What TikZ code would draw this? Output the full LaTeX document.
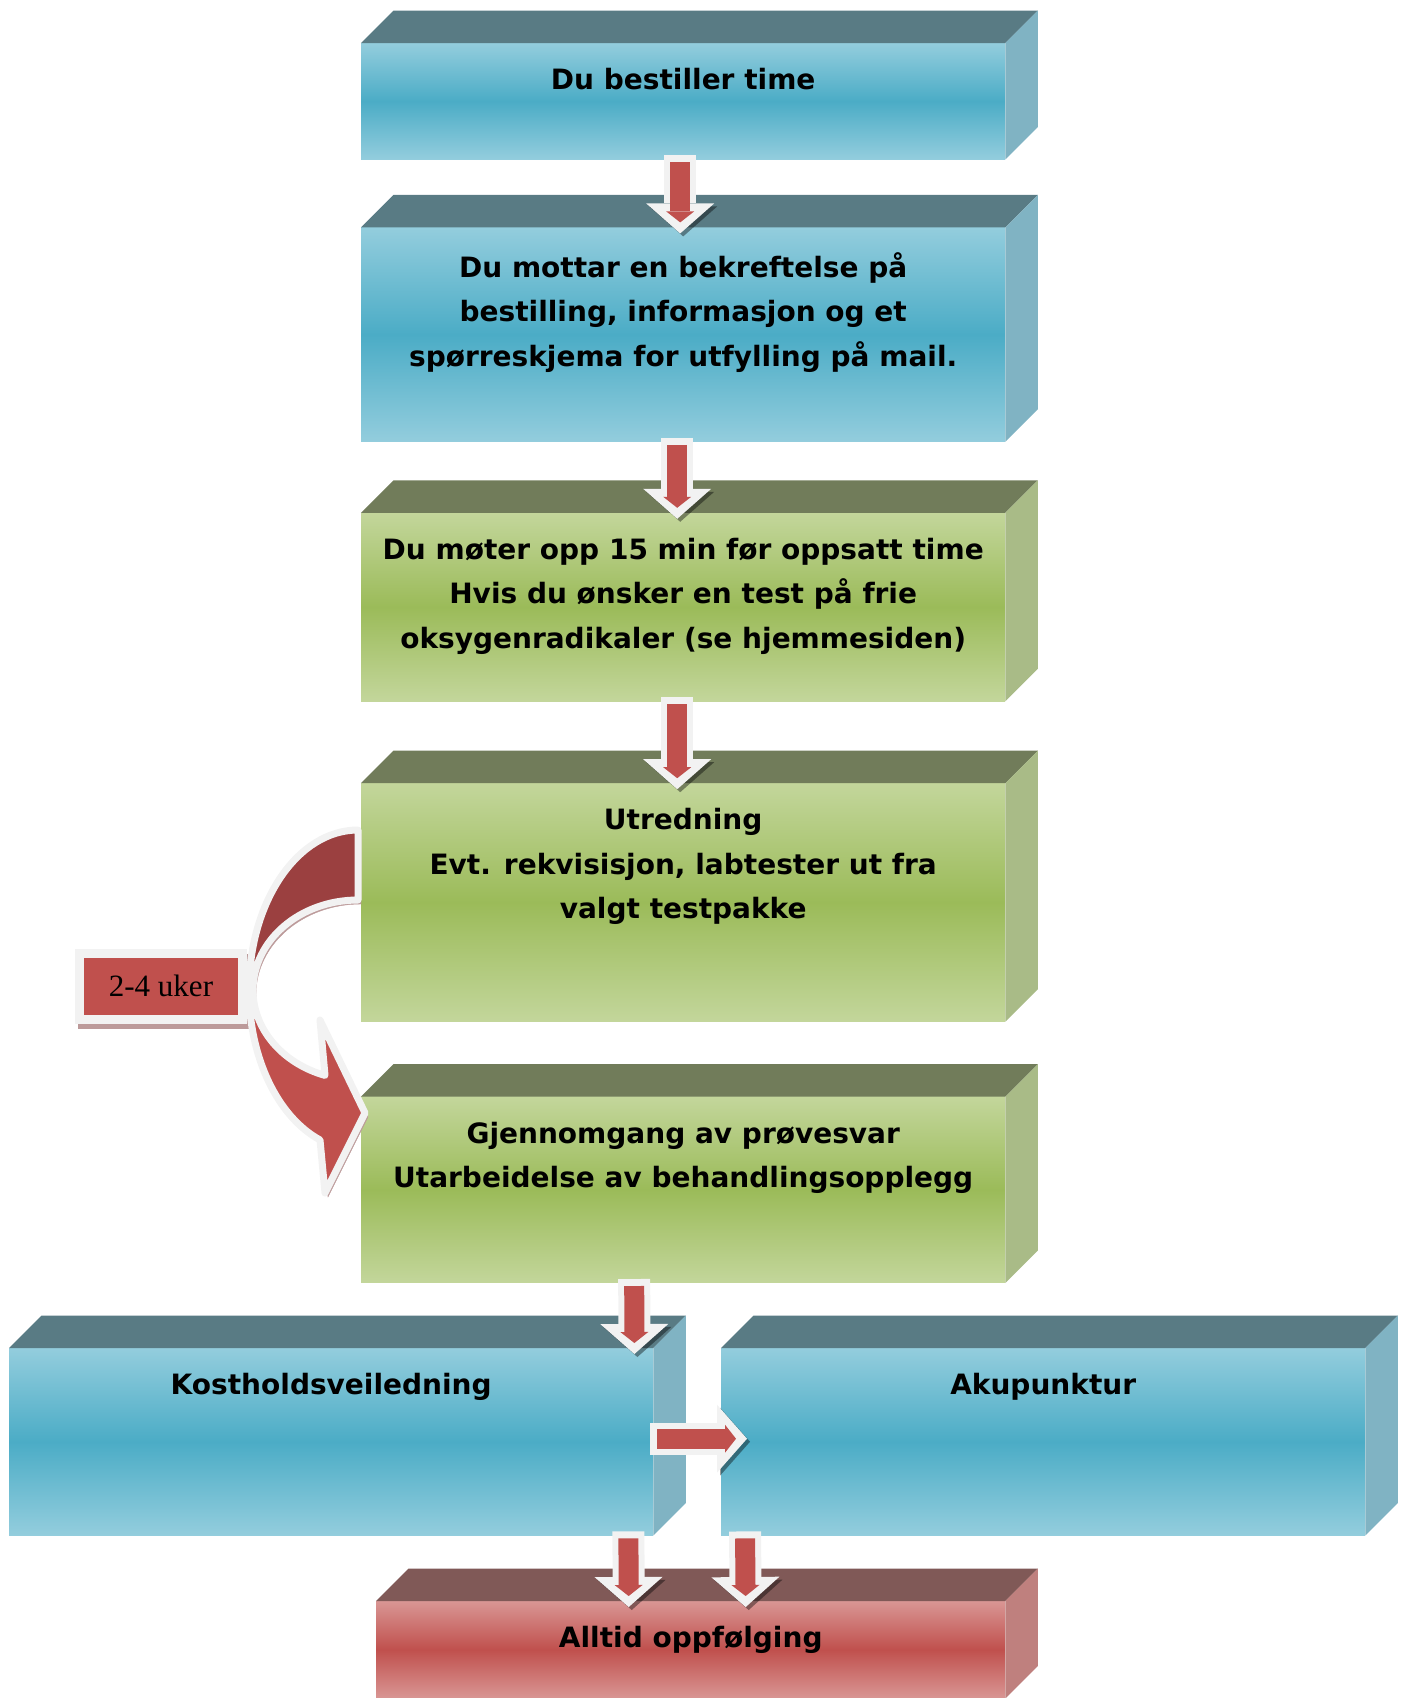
\documentclass[tikz,border=0pt]{standalone}
\usepackage{fontspec}
\setmainfont{DejaVu Sans}
\newfontfamily\weekfont{Liberation Serif}
\usepackage{tikz}
\usetikzlibrary{arrows.meta, positioning}

\definecolor{bluelight}{HTML}{93CDDD}
\definecolor{bluemid}{HTML}{4BACC6}
\definecolor{bluetop}{HTML}{597B84}
\definecolor{blueside}{HTML}{80B3C3}
\definecolor{greenlight}{HTML}{C3D69B}
\definecolor{greenmid}{HTML}{9BBB59}
\definecolor{greentop}{HTML}{717C5A}
\definecolor{greenside}{HTML}{A9BB87}
\definecolor{redlight}{HTML}{D99694}
\definecolor{redmid}{HTML}{C0504D}
\definecolor{redtop}{HTML}{805957}
\definecolor{redside}{HTML}{BF807E}
\definecolor{arrowred}{HTML}{C0504D}
\definecolor{bendred}{HTML}{9B4040}
\definecolor{arrowwhite}{HTML}{F2F2F2}
\definecolor{shadowpink}{HTML}{BC9A9A}

\begin{document}
\begin{tikzpicture}[
    x=1pt, y=1pt,
    front/.style={rectangle, inner sep=0pt, minimum width=644pt},
    bluebox/.style={front, top color=bluelight, bottom color=bluelight, middle color=bluemid},
    greenbox/.style={front, top color=greenlight, bottom color=greenlight, middle color=greenmid},
    redbox/.style={front, top color=redlight, bottom color=redlight, middle color=redmid},
    boxtext/.style={inner sep=0pt, align=center, font=\fontsize{28}{44.4}\selectfont\bfseries},
    flow/.style={line width=32pt, draw=arrowwhite, -{Triangle[width=68pt, length=30pt, line width=0pt]},
        preaction={draw=black, opacity=.4, transform canvas={shift={(3pt,-3pt)}}},
        postaction={draw=arrowred, line width=20pt, -{Triangle[width=28pt, length=11pt, line width=0pt]},
            shorten <=7pt, shorten >=11pt}},
    bendband/.style={draw=arrowwhite, line width=7pt, line join=round,
        preaction={draw=shadowpink, fill=shadowpink, transform canvas={shift={(3pt,-4pt)}}}},
    weeks/.style={rectangle, fill=arrowred, draw=arrowwhite, line width=9pt, minimum width=163pt,
        minimum height=66pt, font=\weekfont\fontsize{31}{36}\selectfont,
        preaction={draw=shadowpink, fill=shadowpink, transform canvas={shift={(3pt,-5pt)}}}}
]
\useasboundingbox (0,0) rectangle (1407,-1698);

% Main column
\node[bluebox, minimum height=116pt, anchor=north west] (b1) at (361,-43) {};
\node[bluebox, minimum height=214pt, below=68pt of b1] (b2) {};
\node[greenbox, minimum height=188pt, below=71pt of b2] (b3) {};
\node[greenbox, minimum height=238pt, below=82pt of b3] (b4) {};
\node[greenbox, minimum height=186pt, below=75pt of b4] (b5) {};

% Two treatments side by side
\node[bluebox, minimum height=187pt, anchor=north west] (b6) at (9,-1348) {};
\node[bluebox, minimum height=187pt, anchor=north west] (b7) at (721,-1348) {};

% Follow-up
\node[redbox, minimum width=629pt, minimum height=97pt, anchor=north west] (b8) at (376,-1601) {};

% Top and side faces
\fill[bluetop] (b1.north west) -- ++(32.5,32.5) -- ([shift={(32.5,32.5)}]b1.north east) -- (b1.north east) -- cycle;
\fill[blueside] (b1.north east) -- ++(32.5,32.5) -- ([shift={(32.5,32.5)}]b1.south east) -- (b1.south east) -- cycle;
\fill[bluetop] (b2.north west) -- ++(32.5,32.5) -- ([shift={(32.5,32.5)}]b2.north east) -- (b2.north east) -- cycle;
\fill[blueside] (b2.north east) -- ++(32.5,32.5) -- ([shift={(32.5,32.5)}]b2.south east) -- (b2.south east) -- cycle;
\fill[greentop] (b3.north west) -- ++(32.5,32.5) -- ([shift={(32.5,32.5)}]b3.north east) -- (b3.north east) -- cycle;
\fill[greenside] (b3.north east) -- ++(32.5,32.5) -- ([shift={(32.5,32.5)}]b3.south east) -- (b3.south east) -- cycle;
\fill[greentop] (b4.north west) -- ++(32.5,32.5) -- ([shift={(32.5,32.5)}]b4.north east) -- (b4.north east) -- cycle;
\fill[greenside] (b4.north east) -- ++(32.5,32.5) -- ([shift={(32.5,32.5)}]b4.south east) -- (b4.south east) -- cycle;
\fill[greentop] (b5.north west) -- ++(32.5,32.5) -- ([shift={(32.5,32.5)}]b5.north east) -- (b5.north east) -- cycle;
\fill[greenside] (b5.north east) -- ++(32.5,32.5) -- ([shift={(32.5,32.5)}]b5.south east) -- (b5.south east) -- cycle;
\fill[bluetop] (b6.north west) -- ++(32.5,32.5) -- ([shift={(32.5,32.5)}]b6.north east) -- (b6.north east) -- cycle;
\fill[blueside] (b6.north east) -- ++(32.5,32.5) -- ([shift={(32.5,32.5)}]b6.south east) -- (b6.south east) -- cycle;
\fill[bluetop] (b7.north west) -- ++(32.5,32.5) -- ([shift={(32.5,32.5)}]b7.north east) -- (b7.north east) -- cycle;
\fill[blueside] (b7.north east) -- ++(32.5,32.5) -- ([shift={(32.5,32.5)}]b7.south east) -- (b7.south east) -- cycle;
\fill[redtop] (b8.north west) -- ++(32.5,32.5) -- ([shift={(32.5,32.5)}]b8.north east) -- (b8.north east) -- cycle;
\fill[redside] (b8.north east) -- ++(32.5,32.5) -- ([shift={(32.5,32.5)}]b8.south east) -- (b8.south east) -- cycle;

% Texts
\node[boxtext, below=25pt of b1.north] (t1) {Du bestiller time};
\node[boxtext, below=25pt of b2.north] (t2) {Du mottar en bekreftelse på\\bestilling, informasjon og et\\spørreskjema for utfylling på mail.};
\node[boxtext, below=25pt of b3.north] (t3) {Du møter opp 15 min før oppsatt time\\Hvis du ønsker en test på frie\\oksygenradikaler (se hjemmesiden)};
\node[boxtext, below=25pt of b4.north] (t4) {Utredning\\Evt. rekvisisjon, labtester ut fra\\valgt testpakke};
\node[boxtext, below=25pt of b5.north] (t5) {Gjennomgang av prøvesvar\\Utarbeidelse av behandlingsopplegg};
\node[boxtext, below=25pt of b6.north] (t6) {Kostholdsveiledning};
\node[boxtext, below=25pt of b7.north] (t7) {Akupunktur};
\node[boxtext, below=25pt of b8.north] (t8) {Alltid oppfølging};

% Waiting time
\node[weeks] (wait) at (161,-986) {2-4 uker};
\coordinate (turn) at (358,-990);
\begin{scope}[shift={(turn)}]
\draw[bendband, fill=bendred] (0,160) arc[start angle=90, end angle=180, x radius=109, y radius=160]
    -- (-105,0) arc[start angle=180, end angle=90, x radius=105, y radius=90] -- cycle;
\draw[bendband, fill=arrowred] (-109,0) arc[start angle=180, end angle=249.6, x radius=109, y radius=160]
    -- (-33,-203) -- (7,-123) -- (-38,-30) -- (-33,-85.4)
    arc[start angle=251.7, end angle=180, x radius=105, y radius=90] -- cycle;
\end{scope}

% Arrows
\draw[flow] ([xshift=-3pt,yshift=4pt]b1.south) -- ([xshift=-3pt,yshift=-6pt]b2.north);
\draw[flow] ([xshift=-6pt,yshift=4pt]b2.south) -- ([xshift=-6pt,yshift=-6pt]b3.north);
\draw[flow] ([xshift=-6pt,yshift=4pt]b3.south) -- ([xshift=-6pt,yshift=-6pt]b4.north);
\draw[flow] ([xshift=-49pt,yshift=4pt]b5.south) -- ([xshift=-19pt,yshift=-6pt]b6.north east);
\draw[flow] ([xshift=-3pt,yshift=3pt]b6.east) -- ([xshift=26pt,yshift=3pt]b7.west);
\draw[flow] ([xshift=-25pt,yshift=4pt]b6.south east) -- ([xshift=-62pt,yshift=-6pt]b8.north);
\draw[flow] ([xshift=24pt,yshift=4pt]b7.south west) -- ([xshift=55pt,yshift=-6pt]b8.north);

\end{tikzpicture}
\end{document}
